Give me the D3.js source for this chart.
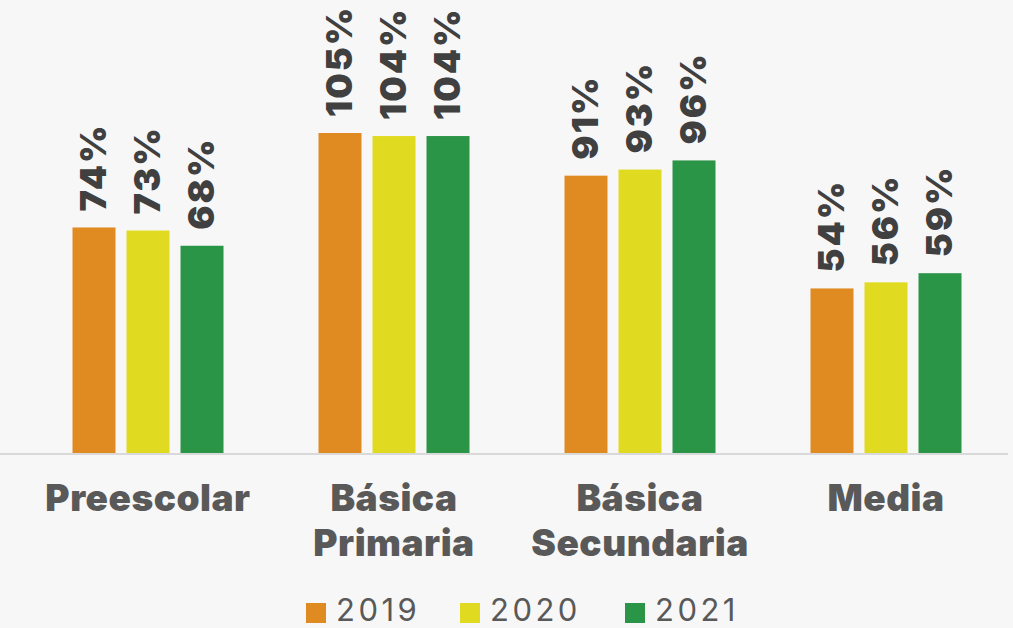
<!DOCTYPE html>
<html>
<head>
<meta charset="utf-8">
<script src="https://cdn.jsdelivr.net/npm/d3@7"></script>
<style>
  body { margin:0; background:#f7f7f7; }
  svg { display:block; }
</style>
</head>
<body>
<script>
var width = 1013, height = 628;

// data
var categories = ["Preescolar", "Básica Primaria", "Básica Secundaria", "Media"];
var catLines = [["Preescolar"], ["Básica", "Primaria"], ["Básica", "Secundaria"], ["Media"]];
var years = ["2019", "2020", "2021"];
var v2019 = [74, 105, 91, 54];
var v2020 = [73, 104, 93, 56];
var v2021 = [68, 104, 96, 59];
var colors = ["#e08a22", "#e0db20", "#2a9447"];

var series = [v2019, v2020, v2021];

var svg = d3.select("body").append("svg")
    .attr("width", width)
    .attr("height", height);

var baseY = 453;

var y = d3.scaleLinear()
    .domain([0, 105])
    .range([baseY, 133]);

var x0 = d3.scaleBand()
    .domain(categories)
    .range([25, 1009]);

var x1 = d3.scaleBand()
    .domain(years)
    .range([0, 151])
    .paddingInner(0.204)
    .paddingOuter(0);

// baseline
svg.append("line")
    .attr("x1", 0).attr("x2", 1008)
    .attr("y1", baseY + 1).attr("y2", baseY + 1)
    .attr("stroke", "#d9d9d9")
    .attr("stroke-width", 2);

var groups = svg.selectAll("g.grp")
    .data(categories)
    .enter().append("g")
    .attr("class", "grp")
    .attr("transform", function(d){ return "translate(" + (x0(d) + x0.bandwidth()/2 - 75.5) + ",0)"; });

years.forEach(function(yr, k){
  groups.append("rect")
      .attr("x", x1(yr))
      .attr("y", function(d, i){ return y(series[k][i]); })
      .attr("width", x1.bandwidth())
      .attr("height", function(d, i){ return baseY - y(series[k][i]); })
      .attr("fill", colors[k]);

  groups.append("text")
      .attr("transform", function(d, i){
        return "translate(" + (x1(yr) + x1.bandwidth()/2 + 12) + "," + (y(series[k][i]) - 16) + ") rotate(-90)";
      })
      .attr("font-family", "Inter")
      .attr("font-weight", 900)
      .attr("font-size", 36)
      .attr("letter-spacing", 2)
      .attr("fill", "#404040")
      .text(function(d, i){ return series[k][i] + "%"; });
});

// category labels
svg.selectAll("text.cat")
    .data(categories)
    .enter().append("text")
    .attr("class", "cat")
    .attr("x", function(d){ return x0(d) + x0.bandwidth()/2; })
    .attr("y", 511)
    .attr("text-anchor", "middle")
    .attr("font-family", "Inter")
    .attr("font-weight", 900)
    .attr("font-size", 37)
    .attr("letter-spacing", 0.5)
    .attr("fill", "#595959")
    .each(function(d, i){
      var t = d3.select(this);
      catLines[i].forEach(function(line, j){
        t.append("tspan")
          .attr("x", x0(d) + x0.bandwidth()/2)
          .attr("dy", j == 0 ? 0 : 45)
          .text(line);
      });
    });

// legend
var legendX = [306, 460, 625];
var legend = svg.selectAll("g.legend")
    .data(years)
    .enter().append("g")
    .attr("class", "legend")
    .attr("transform", function(d, i){ return "translate(" + legendX[i] + ",603)"; });

legend.append("rect")
    .attr("width", 20).attr("height", 20)
    .attr("fill", function(d, i){ return colors[i]; });

legend.append("text")
    .attr("x", 30)
    .attr("y", 18)
    .attr("font-family", "Inter")
    .attr("font-size", 31)
    .attr("letter-spacing", 3.5)
    .attr("fill", "#595959")
    .text(function(d){ return d; });
</script>
</body>
</html>
